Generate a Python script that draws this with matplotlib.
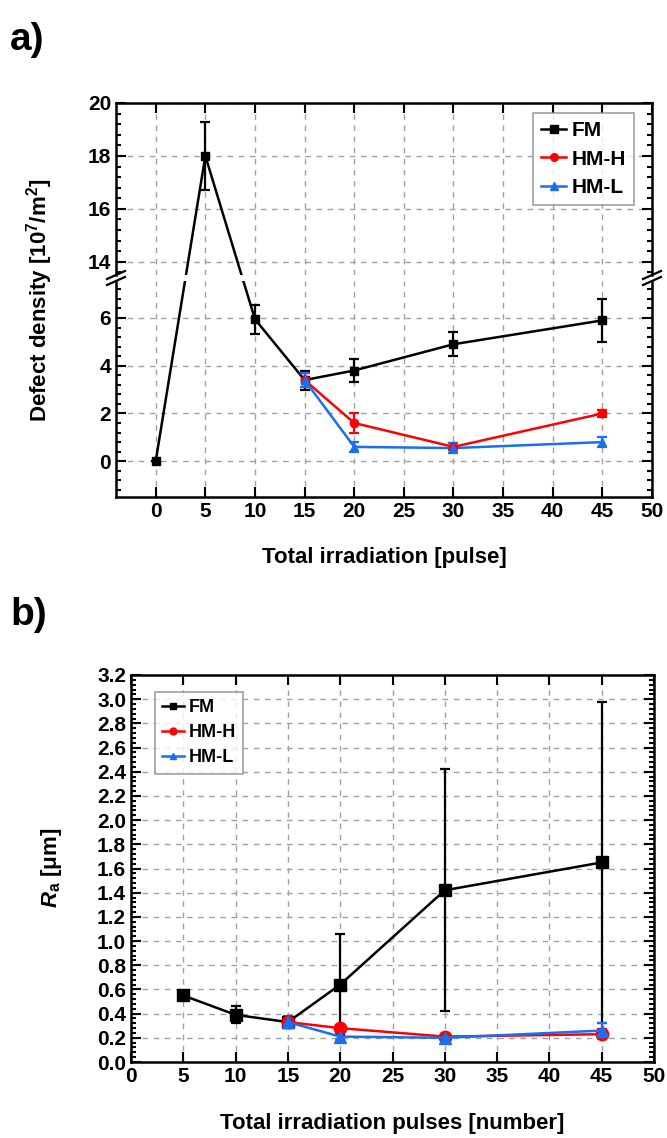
import matplotlib
matplotlib.use("Agg")
import numpy as np
import matplotlib.pyplot as plt
from matplotlib.lines import Line2D
from matplotlib.ticker import MultipleLocator, AutoMinorLocator

plt.rcParams["font.family"] = ["Liberation Sans", "DejaVu Sans"]
plt.rcParams["font.weight"] = "bold"
plt.rcParams["mathtext.fontset"] = "custom"
plt.rcParams["mathtext.rm"] = "Liberation Sans:bold"
plt.rcParams["mathtext.it"] = "Liberation Sans:italic:bold"
plt.rcParams["mathtext.bf"] = "Liberation Sans:bold"

# panel a: defect density [10^7/m^2]
a_fm_x = [0, 5, 10, 15, 20, 30, 45]
a_fm_y = [0.0, 18.0, 5.95, 3.4, 3.8, 4.9, 5.9]
a_fm_err = [0.0, 1.3, 0.6, 0.4, 0.5, 0.5, 0.9]
a_hmh_x = [15, 20, 30, 45]
a_hmh_y = [3.4, 1.6, 0.6, 2.0]
a_hmh_err = [0.3, 0.4, 0.15, 0.15]
a_hml_x = [15, 20, 30, 45]
a_hml_y = [3.4, 0.6, 0.55, 0.8]
a_hml_err = [0.3, 0.2, 0.2, 0.2]

# panel b: Ra [um]
b_fm_x = [5, 10, 15, 20, 30, 45]
b_fm_y = [0.55, 0.39, 0.33, 0.64, 1.42, 1.65]
b_fm_err = [0.03, 0.07, 0.02, 0.42, 1.0, 1.33]
b_hmh_x = [15, 20, 30, 45]
b_hmh_y = [0.33, 0.28, 0.21, 0.23]
b_hmh_err = [0.03, 0.03, 0.02, 0.04]
b_hml_x = [15, 20, 30, 45]
b_hml_y = [0.33, 0.21, 0.20, 0.26]
b_hml_err = [0.05, 0.03, 0.03, 0.06]

labels = ["FM", "HM-H", "HM-L"]
colors = ["black", "#ff0000", "#1a6ff0"]
markers = ["s", "o", "^"]
xticks = list(range(0, 55, 5))

W, H = 667, 1138
fig = plt.figure(figsize=(W / 100, H / 100), dpi=100)


def frac(left, top, right, bottom):
    return [left / W, 1 - bottom / H, (right - left) / W, (bottom - top) / H]


def style(ax):
    for s in ax.spines.values():
        s.set_linewidth(1.8)
    ax.tick_params(which="both", direction="in", top=True, right=True,
                   width=1.5, labelsize=15)
    ax.tick_params(which="major", length=7)
    ax.tick_params(which="minor", length=3.5)
    ax.xaxis.set_major_locator(MultipleLocator(5))
    ax.grid(True, which="major", linestyle=(0, (4, 4)), color="#a0a0a0", lw=1)
    ax.set_axisbelow(True)


def add_legend(ax, anchor, loc, size, ms):
    handles = [Line2D([], [], color=c, marker=m, lw=1.8, markersize=ms)
               for c, m in zip(colors, markers)]
    leg = ax.legend(handles, labels, loc=loc, bbox_to_anchor=anchor,
                    bbox_transform=fig.transFigure, borderaxespad=0,
                    fontsize=size, handlelength=1.2, handletextpad=0.25,
                    labelspacing=0.45, fancybox=False)
    leg.get_frame().set_edgecolor("#888888")
    leg.get_frame().set_linewidth(1.2)
    return leg


ax_up = fig.add_axes(frac(116, 103, 652, 275))
ax_lo = fig.add_axes(frac(116, 281, 652, 497))
ax_b = fig.add_axes(frac(131, 675, 654, 1062))

for ax in (ax_up, ax_lo):
    style(ax)
    ax.set_xlim(-4, 50)
    ax.set_xticks(xticks)
    ax.yaxis.set_major_locator(MultipleLocator(2))
    ax.yaxis.set_minor_locator(AutoMinorLocator(5))
ax_up.set_ylim(13.5, 20)
ax_lo.set_ylim(-1.5, 7.55)
ax_up.spines["bottom"].set_visible(False)
ax_lo.spines["top"].set_visible(False)
ax_up.tick_params(which="both", bottom=False, labelbottom=False)
ax_lo.tick_params(which="both", top=False)


def screen_coords(ax_target, x, y):
    # connecting lines are straight on screen across the axis break
    pts = []
    for xi, yi in zip(x, y):
        src = ax_up if yi > 10 else ax_lo
        d = src.transData.transform((xi, yi))
        pts.append(ax_target.transData.inverted().transform(d))
    return np.array(pts)


series_a = [(a_fm_x, a_fm_y, a_fm_err), (a_hmh_x, a_hmh_y, a_hmh_err),
            (a_hml_x, a_hml_y, a_hml_err)]
for ax in (ax_up, ax_lo):
    for (x, y, e), c, m in zip(series_a, colors, markers):
        v = screen_coords(ax, x, y)
        ax.plot(v[:, 0], v[:, 1], color=c, lw=1.8)
        ax.errorbar(x, y, yerr=e, color=c, marker=m, markersize=6, ls="none",
                    elinewidth=1.6, capsize=3.5, capthick=1.6)

# break marks
for xf in (116, 652):
    for dy in (-3, 3):
        fig.add_artist(Line2D([(xf - 9) / W, (xf + 9) / W],
                              [1 - (278 + dy + 4) / H, 1 - (278 + dy - 4) / H],
                              color="black", lw=1.6))

add_legend(ax_up, (634 / W, 1 - 113 / H), "upper right", 15, 5.5)

fig.text(10 / W, 1 - 40 / H, "a)", fontsize=28, fontweight="bold", va="center")
fig.text(40 / W, 1 - 300 / H, "Defect density [10$^7$/m$^2$]", rotation=90,
         fontsize=16, fontweight="bold", ha="center", va="center")
fig.text(384 / W, 1 - 557 / H, "Total irradiation [pulse]", fontsize=16,
         fontweight="bold", ha="center", va="center")

# panel b
style(ax_b)
series_b = [(b_fm_x, b_fm_y, b_fm_err), (b_hmh_x, b_hmh_y, b_hmh_err),
            (b_hml_x, b_hml_y, b_hml_err)]
for (x, y, e), c, m in zip(series_b, colors, markers):
    ax_b.errorbar(x, y, yerr=e, color=c, marker=m, markersize=9, lw=1.8,
                  elinewidth=1.6, capsize=3.5, capthick=1.6)
ax_b.set_xlim(0, 50)
ax_b.set_xticks(xticks)
ax_b.set_ylim(0, 3.2)
ax_b.yaxis.set_major_locator(MultipleLocator(0.2))
ax_b.yaxis.set_minor_locator(AutoMinorLocator(5))
ax_b.yaxis.set_major_formatter(plt.FormatStrFormatter("%.1f"))

add_legend(ax_b, (155 / W, 1 - 692 / H), "upper left", 13, 5)

fig.text(10 / W, 1 - 615 / H, "b)", fontsize=28, fontweight="bold", va="center")
fig.text(52 / W, 1 - 868 / H, "$R_{\\mathrm{a}}$ [μm]", rotation=90,
         fontsize=16, fontweight="bold", ha="center", va="center")
fig.text(392 / W, 1 - 1123 / H, "Total irradiation pulses [number]",
         fontsize=16, fontweight="bold", ha="center", va="center")

fig.savefig("out.png", dpi=100)
